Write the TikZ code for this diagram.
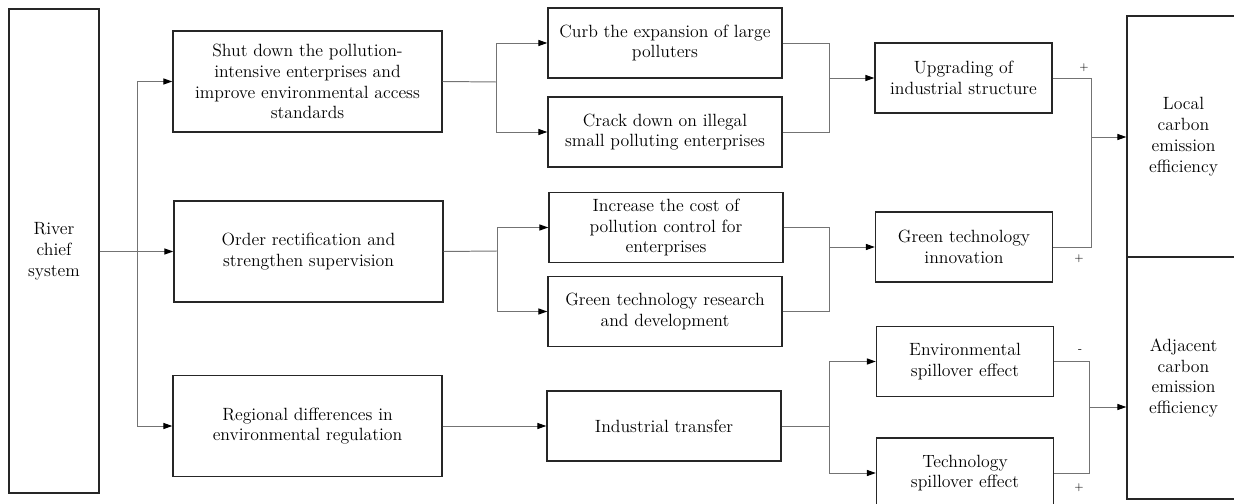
\documentclass[tikz,border=0pt]{standalone}
\usepackage{amsmath}
\usepackage{tikz}
\usetikzlibrary{arrows.meta}
\tikzset{
  box/.style={draw=black!85,line width=1pt,fill=white,align=center,inner sep=2pt,
    font=\fontsize{12.6}{14.8}\selectfont},
  link/.style={draw=black!55,line width=0.7pt},
  arr/.style={link,-{Triangle[length=2.2mm,width=1.5mm,color=black]}},
}
\tikzset{sign/.style={font=\footnotesize,inner sep=1pt}, big/.style={box,minimum width=6.725cm,minimum height=2.525cm}, mid/.style={box,minimum width=5.85cm,minimum height=1.75cm}, small/.style={box,minimum width=4.425cm,minimum height=1.75cm}}

\begin{document}
\begin{tikzpicture}[x=0.025cm,y=-0.025cm]
\useasboundingbox (0,0) rectangle (1234,504);
\node[box,minimum width=2.25cm,minimum height=12.1cm] (river) at (54,251) {River\\chief\\system};
\node[big] (shut) at (307.5,81.5) {Shut down the pollution-\\intensive enterprises and\\improve environmental access\\standards};
\node[big] (order) at (308.5,251.5) {Order rectification and\\strengthen supervision};
\node[big] (regional) at (307.5,426) {Regional differences in\\environmental regulation};
\node[mid] (curb) at (665,43) {Curb the expansion of large\\polluters};
\node[mid] (crack) at (665,132) {Crack down on illegal\\small polluting enterprises};
\node[mid] (increase) at (666,227.5) {Increase the cost of\\pollution control for\\enterprises};
\node[mid] (rnd) at (665,311.5) {Green technology research\\and development};
\node[mid] (transfer) at (664,426) {Industrial transfer};
\node[small] (upgrade) at (963.5,78) {Upgrading of\\industrial structure};
\node[small] (innov) at (964,247) {Green technology\\innovation};
\node[small] (envspill) at (965,361.5) {Environmental\\spillover effect};
\node[small] (techspill) at (965,473) {Technology\\spillover effect};
\node[box,minimum width=2.825cm,minimum height=6.025cm] (local) at (1183.5,136.5) {Local\\carbon\\emission\\efficiency};
\node[box,minimum width=2.825cm,minimum height=6.05cm] (adjacent) at (1183.5,378) {Adjacent\\carbon\\emission\\efficiency};
% junctions
\coordinate (t0) at (137,251);
\coordinate (s1) at (496,82);
\coordinate (s2) at (497,251);
\coordinate (s3) at (829,426);
\coordinate (m1) at (829,78);
\coordinate (m2) at (829,247);
\coordinate (m3) at (1091,137);
\coordinate (m4) at (1089,407);
% river chief system
\draw[link] (river.east) -- (t0);
\draw[arr] (t0) |- (shut.west);
\draw[arr] (t0) |- (order.west);
\draw[arr] (t0) |- (regional.west);
% first column to second
\draw[link] (shut.east) -- (s1);
\draw[arr] (s1) |- (curb.west);
\draw[arr] (s1) |- (crack.west);
\draw[link] (order.east) -- (s2);
\draw[arr] (s2) |- (increase.west);
\draw[arr] (s2) |- (rnd.west);
\draw[arr] (regional.east) -- (transfer.west);
% second column to third
\draw[link] (curb.east) -| (m1);
\draw[link] (crack.east) -| (m1);
\draw[arr] (m1) -- (upgrade.west);
\draw[link] (increase.east) -| (m2);
\draw[link] (rnd.east) -| (m2);
\draw[arr] (m2) -- (innov.west);
\draw[link] (transfer.east) -- (s3);
\draw[arr] (s3) |- (envspill.west);
\draw[arr] (s3) |- (techspill.west);
% third column to efficiency
\draw[link] (upgrade.east) -| (m3);
\draw[link] (innov.east) -| (m3);
\draw[arr] (m3) -- (m3 -| local.west);
\draw[link] (envspill.east) -| (m4);
\draw[link] (techspill.east) -| (m4);
\draw[arr] (m4) -- (m4 -| adjacent.west);
\node[sign] (p1) at (1084,68) {+};
\node[sign] (p2) at (1079,259) {+};
\node[sign] (n1) at (1080,351) {-};
\node[sign] (p3) at (1079,488) {+};
\end{tikzpicture}
\end{document}
